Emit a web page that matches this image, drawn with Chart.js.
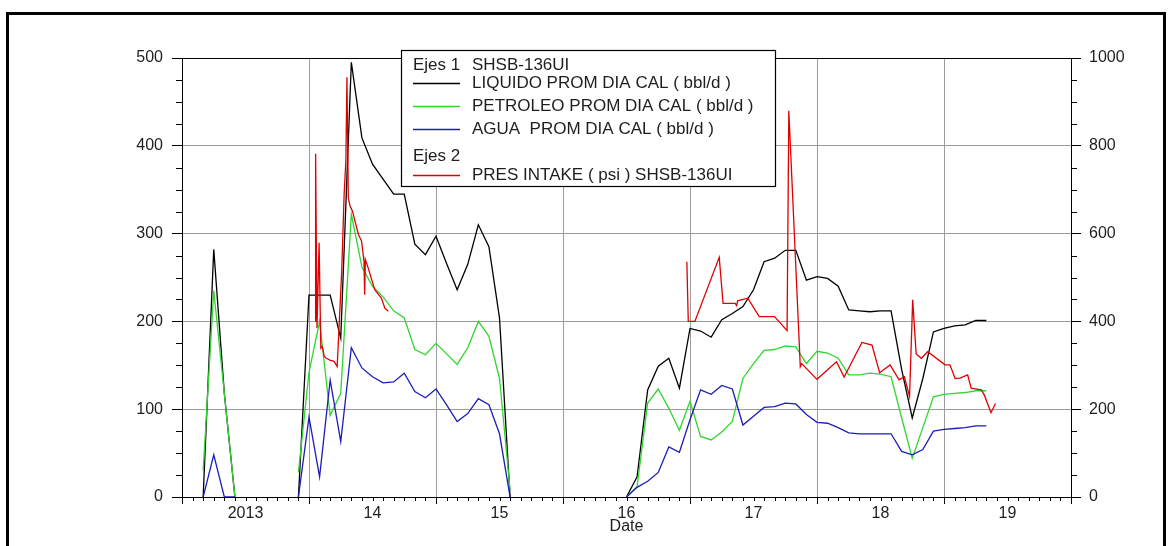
<!DOCTYPE html>
<html>
<head>
<meta charset="utf-8">
<script src="https://cdn.jsdelivr.net/npm/chart.js@4.4.1/dist/chart.umd.min.js"></script>
<style>
html,body{margin:0;padding:0;background:#fff;overflow:hidden;}
#wrap{position:relative;width:1168px;height:546px;}
#frame{position:absolute;left:6px;top:12px;width:1160px;height:600px;border:3px solid #000;box-sizing:border-box;}
canvas{position:absolute;left:0;top:0;}
</style>
</head>
<body>
<div id="wrap"><div id="frame"></div><canvas id="c" width="1168" height="546"></canvas></div>
<script>
// ---------- DATA ----------
const months = [
  '2013-03','2013-04','2013-05','2013-06','2013-07',
  '2013-12','2014-01','2014-02','2014-03','2014-04','2014-05','2014-06','2014-07','2014-08','2014-09','2014-10','2014-11','2014-12',
  '2015-01','2015-02','2015-03','2015-04','2015-05','2015-06','2015-07','2015-08','2015-09',
  '2016-07','2016-08','2016-09','2016-10','2016-11','2016-12',
  '2017-01','2017-02','2017-03','2017-04','2017-05','2017-06','2017-07','2017-08','2017-09','2017-10','2017-11','2017-12',
  '2018-01','2018-02','2018-03','2018-04','2018-05','2018-06','2018-07','2018-08','2018-09','2018-10','2018-11','2018-12',
  '2019-01','2019-02','2019-03','2019-04','2019-05'
];
const liquido = [
  0, 282, 118, 0, null,
  0, 230, 230, 230, 181, 495, 409, 379, 362, 345, 345, 288, 276,
  297, 266, 236, 265, 310, 285, 204, 0, null,
  0, 23, 122, 149, 158, 124,
  192, 189, 182, 202, 209, 217, 236, 268, 272, 281, 281, 247,
  251, 249, 240, 213, 212, 211, 212, 212, 145, 90, 135, 188,
  192, 195, 196, 201, 201
];
const petroleo = [
  30, 235, 118, 0, null,
  28, 142, 200, 93, 118, 322, 262, 240, 228, 212, 204, 168, 162,
  175, 163, 151, 170, 200, 183, 135, 8, null,
  0, 12, 107, 123, 101, 76,
  109, 69, 65, 74, 86, 135, 152, 167, 168, 172, 171, 152,
  166, 164, 158, 139, 139, 141, 140, 137, 90, 44, 79, 114,
  117, 118, 119, 121, 121
];
const agua = [
  0, 48, 0, 0, null,
  0, 91, 23, 133, 63, 170, 147, 137, 130, 131, 141, 120, 113,
  123, 105, 86, 95, 112, 105, 72, 0, null,
  0, 11, 18, 28, 57, 51,
  88, 122, 117, 127, 123, 82, 92, 102, 103, 107, 106, 94,
  85, 84, 79, 73, 72, 72, 72, 72, 52, 48, 54, 75,
  77, 78, 79, 81, 81
];
const presDates = [
  '2014-01-19','2014-01-20','2014-01-24','2014-01-30','2014-02-04','2014-02-08','2014-02-14','2014-02-20','2014-03-02','2014-03-14',
  '2014-03-23','2014-04-05','2014-04-12','2014-04-17','2014-04-20','2014-04-24','2014-04-29','2014-05-06','2014-05-13','2014-05-23',
  '2014-06-01','2014-06-08','2014-06-10','2014-06-12','2014-06-20','2014-07-09','2014-07-28','2014-08-07','2014-08-17',
  '2015-06-01',
  '2016-12-23','2016-12-27','2017-01-15','2017-03-26','2017-04-06','2017-05-11','2017-05-15','2017-05-18','2017-06-16','2017-07-19',
  '2017-09-01','2017-10-07','2017-10-12','2017-11-14','2017-11-18','2018-01-01','2018-02-26','2018-03-20','2018-05-10','2018-06-08',
  '2018-06-30','2018-07-30','2018-08-25','2018-09-09','2018-09-24','2018-10-03','2018-10-13','2018-10-28','2018-11-15','2019-01-04',
  '2019-01-18','2019-02-02','2019-02-16','2019-03-10','2019-03-20','2019-04-18','2019-04-27','2019-05-16','2019-05-29'
];
const presIntake = [
  400, 782, 385, 579, 339, 343, 320, 316, 312, 309,
  297, 514, 690, 766, 956, 680, 663, 651, 629, 598,
  583, 537, 461, 541, 522, 472, 453, 430, 423,
  null,
  536, 400, 400, 546, 441, 441, 436, 447, 453, 411,
  411, 379, 880, 297, 304, 268, 308, 273, 352, 346,
  283, 301, 267, 274, 229, 449, 326, 316, 331, 301,
  301, 270, 271, 278, 248, 244, 232, 192, 213
];
const xTickYears = [2013, 2014, 2015, 2016, 2017, 2018, 2019, 2020];
const xTickLabels = ['2013', '14', '15', '16', '17', '18', '19', ''];
const seriesLabels = ['LIQUIDO PROM DIA CAL ( bbl/d )', 'PETROLEO PROM DIA CAL ( bbl/d )', 'AGUA  PROM DIA CAL ( bbl/d )', 'PRES INTAKE ( psi ) SHSB-136UI'];
const seriesColors = ['#000000', '#2fd62f', '#1c1cb8', '#e00000'];

// ---------- HELPERS ----------
function toYear(s) {
  const p = s.split('-').map(Number);
  if (p.length === 2) return p[0] + (p[1] - 1) / 12;
  const a = Date.UTC(p[0], 0, 1), b = Date.UTC(p[0] + 1, 0, 1);
  return p[0] + (Date.UTC(p[0], p[1] - 1, p[2]) - a) / (b - a);
}
const pts = (xs, ys) => xs.map((d, i) => ({ x: toYear(d), y: ys[i] }));

const FONT = '"Liberation Sans", Arial, sans-serif';
const TXT = '#1e1e1e';

const extras = {
  id: 'extras',
  afterDraw(chart) {
    const { ctx, chartArea: a, scales } = chart;
    const x = scales.x, y = scales.y, y2 = scales.y2;
    ctx.save();
    ctx.strokeStyle = '#000';
    ctx.lineWidth = 1;
    // top border
    ctx.beginPath();
    ctx.moveTo(a.left, Math.round(a.top) + 0.5);
    ctx.lineTo(a.right, Math.round(a.top) + 0.5);
    ctx.stroke();
    // minor ticks
    ctx.beginPath();
    for (let v = 25; v < 500; v += 25) {
      if (v % 100 === 0) continue;
      const py = Math.round(y.getPixelForValue(v)) + 0.5;
      ctx.moveTo(a.left - 6, py); ctx.lineTo(a.left, py);
    }
    for (let v = 50; v < 1000; v += 50) {
      if (v % 200 === 0) continue;
      const py = Math.round(y2.getPixelForValue(v)) + 0.5;
      ctx.moveTo(a.right, py); ctx.lineTo(a.right + 6, py);
    }
    for (let yr = 2013; yr < 2020; yr++) {
      for (let mo = 1; mo < 12; mo++) {
        const px = Math.round(x.getPixelForValue(yr + mo / 12)) + 0.5;
        ctx.moveTo(px, a.bottom); ctx.lineTo(px, a.bottom + 4);
      }
    }
    ctx.stroke();

    // legend box
    const bx = 401.5, by = 50.5, bw = 374, bh = 136;
    ctx.fillStyle = '#fff';
    ctx.fillRect(bx, by, bw, bh);
    ctx.strokeStyle = '#000';
    ctx.lineWidth = 1.2;
    ctx.strokeRect(bx, by, bw, bh);
    ctx.font = '17px ' + FONT;
    ctx.fillStyle = TXT;
    ctx.textBaseline = 'middle';
    ctx.textAlign = 'left';
    const lx0 = 413, lx1 = 460, tx = 472;
    ctx.fillText('Ejes 1', lx0, 65);
    ctx.fillText('SHSB-136UI', tx, 65);
    ctx.fillText('Ejes 2', lx0, 156);
    const rows = [83, 106, 129, 175];
    chart.data.datasets.forEach((ds, i) => {
      const ry = rows[i];
      ctx.strokeStyle = ds.borderColor;
      ctx.lineWidth = 1.3;
      ctx.beginPath();
      ctx.moveTo(lx0, ry + 0.5); ctx.lineTo(lx1, ry + 0.5);
      ctx.stroke();
      ctx.fillStyle = TXT;
      ctx.fillText(ds.label, tx, ry);
    });
    ctx.restore();
  }
};

const mk = (i, data, axis, order) => ({
  label: seriesLabels[i], data, borderColor: seriesColors[i], backgroundColor: seriesColors[i],
  borderWidth: 1.3, pointRadius: 0, tension: 0, spanGaps: false, yAxisID: axis, order
});

new Chart(document.getElementById('c'), {
  type: 'line',
  data: {
    datasets: [
      mk(0, pts(months, liquido), 'y', 3),
      mk(1, pts(months, petroleo), 'y', 2),
      mk(2, pts(months, agua), 'y', 1),
      mk(3, pts(presDates, presIntake), 'y2', 0)
    ]
  },
  options: {
    responsive: false,
    animation: false,
    devicePixelRatio: 1,
    layout: { padding: { top: 58, left: 0, right: 0, bottom: 0 } },
    plugins: { legend: { display: false }, tooltip: { enabled: false } },
    scales: {
      x: {
        type: 'linear', position: 'bottom', min: 2013, max: 2020,
        afterBuildTicks: s => { s.ticks = xTickYears.map(v => ({ value: v })); },
        afterFit: s => { s.height = 49; },
        grid: { color: '#9c9c9c', lineWidth: 1, tickLength: 7, tickColor: '#000' },
        border: { color: '#000', width: 1 },
        ticks: {
          autoSkip: false, maxRotation: 0, minRotation: 0, labelOffset: 63.5, padding: 0,
          color: TXT, font: { family: FONT, size: 16 },
          callback: (v, i) => xTickLabels[i] ?? ''
        },
        title: { display: true, text: 'Date', color: TXT, font: { family: FONT, size: 16 }, padding: { top: 0, bottom: 10 } }
      },
      y: {
        type: 'linear', position: 'left', min: 0, max: 500,
        afterFit: s => { s.width = 182; },
        grid: { color: '#9c9c9c', lineWidth: 1, tickLength: 10, tickColor: '#000' },
        border: { color: '#000', width: 1 },
        ticks: { stepSize: 100, padding: 9, color: TXT, font: { family: FONT, size: 16 }, callback: v => String(v) }
      },
      y2: {
        type: 'linear', position: 'right', min: 0, max: 1000,
        afterFit: s => { s.width = 97; },
        grid: { drawOnChartArea: false, tickLength: 10, tickColor: '#000' },
        border: { color: '#000', width: 1 },
        ticks: { stepSize: 200, padding: 8, color: TXT, font: { family: FONT, size: 16 }, callback: v => String(v) }
      }
    }
  },
  plugins: [extras]
});
</script>
</body>
</html>
